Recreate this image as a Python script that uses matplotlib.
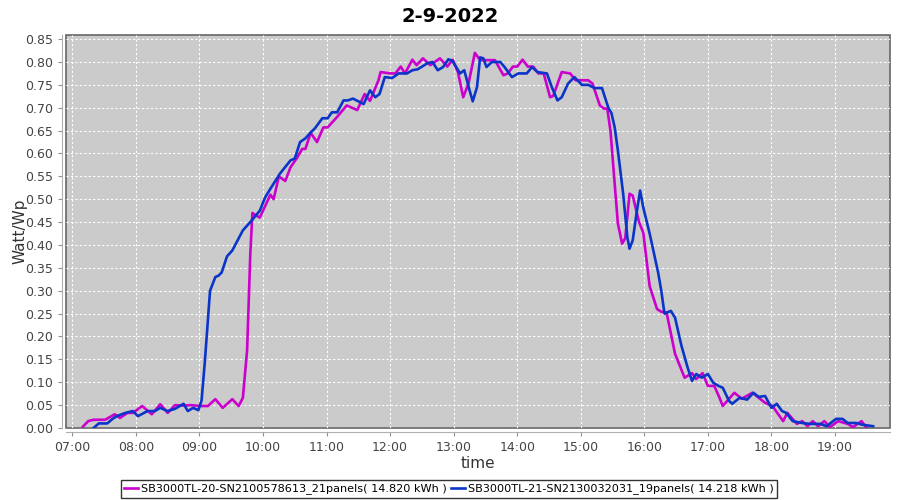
import pandas as pd
import matplotlib
matplotlib.use("Agg")
import matplotlib.pyplot as plt
import matplotlib.dates as mdates

DAY = "2022-09-02"
TITLE = "2-9-2022"

# SB3000TL-20 (magenta)
sb20_times = [
    "07:10", "07:15", "07:20", "07:31", "07:40", "07:45", "07:52", "07:57",
    "08:06", "08:15", "08:23", "08:30", "08:37", "08:45", "08:52", "09:01",
    "09:08", "09:15", "09:22", "09:31", "09:37", "09:41", "09:45", "09:48",
    "09:50", "09:53", "09:57", "10:02", "10:07", "10:10", "10:15", "10:21",
    "10:26", "10:32", "10:37", "10:40", "10:45", "10:51", "10:57", "11:01",
    "11:10", "11:19", "11:29", "11:36", "11:41", "11:49", "11:51", "12:00",
    "12:05", "12:10", "12:14", "12:21", "12:25", "12:31", "12:38", "12:47",
    "12:54", "12:59", "13:04", "13:09", "13:14", "13:20", "13:25", "13:32",
    "13:39", "13:47", "13:51", "13:56", "14:00", "14:05", "14:10", "14:15",
    "14:20", "14:25", "14:31", "14:34", "14:42", "14:50", "14:55", "15:07",
    "15:11", "15:18", "15:22", "15:25", "15:28", "15:31", "15:35", "15:39",
    "15:42", "15:46", "15:49", "15:55", "15:59", "16:05", "16:12", "16:16",
    "16:21", "16:29", "16:38", "16:45", "16:49", "16:55", "17:00", "17:06",
    "17:11", "17:14", "17:25", "17:32", "17:42", "17:54", "18:01", "18:11",
    "18:15", "18:24", "18:29", "18:34", "18:39", "18:44", "18:50", "18:55",
    "19:03", "19:12", "19:17", "19:25", "19:30",
]
sb20_values = [
    0.003, 0.015, 0.018, 0.018, 0.030, 0.022, 0.033, 0.033,
    0.048, 0.030, 0.052, 0.033, 0.050, 0.049, 0.050, 0.048,
    0.048, 0.063, 0.044, 0.063, 0.048, 0.066, 0.170, 0.380,
    0.470, 0.465, 0.460, 0.485, 0.510, 0.500, 0.550, 0.540,
    0.570, 0.590, 0.610, 0.610, 0.645, 0.625, 0.657, 0.657,
    0.680, 0.705, 0.695, 0.730, 0.715, 0.760, 0.778, 0.775,
    0.775, 0.790, 0.775, 0.805, 0.793, 0.808, 0.793, 0.808,
    0.790, 0.805, 0.778, 0.723, 0.753, 0.820, 0.804, 0.804,
    0.804, 0.771, 0.775, 0.790, 0.790, 0.805, 0.790, 0.790,
    0.775, 0.775, 0.723, 0.726, 0.778, 0.775, 0.760, 0.760,
    0.753, 0.705, 0.698, 0.698, 0.650, 0.563, 0.447, 0.403,
    0.415, 0.512, 0.508, 0.450, 0.427, 0.310, 0.260, 0.254,
    0.252, 0.162, 0.110, 0.120, 0.107, 0.120, 0.092, 0.092,
    0.066, 0.048, 0.077, 0.064, 0.077, 0.055, 0.048, 0.015,
    0.033, 0.009, 0.015, 0.004, 0.015, 0.004, 0.015, 0.002,
    0.015, 0.009, 0.002, 0.015, 0.000,
]

# SB3000TL-21 (blue)
sb21_times = [
    "07:20", "07:25", "07:33", "07:38", "07:42", "07:50", "07:57", "08:02",
    "08:11", "08:18", "08:23", "08:30", "08:37", "08:45", "08:49", "08:54",
    "08:59", "09:02", "09:05", "09:10", "09:15", "09:18", "09:21", "09:26",
    "09:31", "09:36", "09:41", "09:48", "09:53", "09:57", "10:02", "10:07",
    "10:16", "10:26", "10:30", "10:35", "10:40", "10:45", "10:49", "10:56",
    "11:01", "11:05", "11:10", "11:16", "11:20", "11:25", "11:35", "11:41",
    "11:46", "11:50", "11:55", "12:02", "12:08", "12:16", "12:21", "12:26",
    "12:35", "12:40", "12:45", "12:50", "12:55", "12:59", "13:06", "13:10",
    "13:15", "13:18", "13:22", "13:25", "13:28", "13:31", "13:36", "13:44",
    "13:48", "13:55", "14:01", "14:09", "14:14", "14:19", "14:28", "14:33",
    "14:38", "14:42", "14:48", "14:54", "15:01", "15:07", "15:13", "15:20",
    "15:26", "15:29", "15:32", "15:35", "15:40", "15:44", "15:46", "15:49",
    "15:53", "15:56", "15:59", "16:05", "16:10", "16:13", "16:16", "16:19",
    "16:25", "16:29", "16:35", "16:41", "16:45", "16:49", "16:54", "17:00",
    "17:05", "17:10", "17:14", "17:20", "17:23", "17:30", "17:37", "17:43",
    "17:48", "17:54", "18:00", "18:05", "18:10", "18:14", "18:20", "18:29",
    "18:36", "18:46", "18:52", "19:01", "19:07", "19:12", "19:20", "19:26",
    "19:36",
]
sb21_values = [
    0.000, 0.010, 0.010, 0.020, 0.026, 0.033, 0.037, 0.026,
    0.037, 0.037, 0.044, 0.037, 0.042, 0.053, 0.037, 0.044,
    0.039, 0.060, 0.142, 0.300, 0.330, 0.333, 0.340, 0.375,
    0.388, 0.410, 0.432, 0.450, 0.464, 0.475, 0.504, 0.523,
    0.556, 0.585, 0.589, 0.625, 0.633, 0.646, 0.655, 0.677,
    0.677, 0.690, 0.690, 0.716, 0.716, 0.720, 0.708, 0.738,
    0.723, 0.730, 0.767, 0.765, 0.775, 0.775, 0.782, 0.784,
    0.797, 0.800, 0.782, 0.789, 0.806, 0.802, 0.775, 0.782,
    0.738, 0.714, 0.745, 0.810, 0.808, 0.789, 0.800, 0.800,
    0.789, 0.767, 0.775, 0.775, 0.789, 0.778, 0.775, 0.743,
    0.716, 0.723, 0.753, 0.767, 0.750, 0.750, 0.743, 0.743,
    0.700, 0.688, 0.657, 0.607, 0.512, 0.416, 0.392, 0.410,
    0.475, 0.519, 0.482, 0.425, 0.372, 0.340, 0.300, 0.250,
    0.256, 0.241, 0.180, 0.131, 0.103, 0.118, 0.110, 0.118,
    0.099, 0.092, 0.088, 0.059, 0.053, 0.066, 0.062, 0.077,
    0.068, 0.070, 0.044, 0.053, 0.037, 0.033, 0.015, 0.011,
    0.009, 0.009, 0.004, 0.020, 0.020, 0.011, 0.011, 0.007,
    0.004,
]

series = [
    ("SB3000TL-20-SN2100578613_21panels( 14.820 kWh )", sb20_times, sb20_values, "#CC00CC"),
    ("SB3000TL-21-SN2130032031_19panels( 14.218 kWh )", sb21_times, sb21_values, "#0A35C8"),
]


def to_dt(times: list[str]) -> pd.DatetimeIndex:
    return pd.to_datetime([f"{DAY} {t}" for t in times])


def main() -> None:
    fig = plt.figure(figsize=(9, 5), dpi=100)
    ax = fig.add_axes([0.0733, 0.144, 0.9157, 0.786])
    ax.set_facecolor("#CBCBCB")
    ax.patch.set_edgecolor("#666666")
    ax.patch.set_linewidth(1.2)

    for label, times, values, color in series:
        ax.plot(to_dt(times), values, color=color, lw=1.9, label=label)

    ax.set_xlim(pd.Timestamp(f"{DAY} 06:54"), pd.Timestamp(f"{DAY} 19:52"))
    ax.set_ylim(0, 0.859)
    ax.xaxis.set_major_locator(mdates.HourLocator())
    ax.xaxis.set_major_formatter(mdates.DateFormatter("%H:%M"))
    ax.set_yticks([i * 0.05 for i in range(18)])
    ax.yaxis.set_major_formatter(plt.FormatStrFormatter("%.2f"))

    ax.grid(True, color="white", ls=(0, (2, 2)), lw=0.8)
    ax.set_axisbelow(True)

    for side in ("top", "right"):
        ax.spines[side].set_visible(False)
    for side in ("left", "bottom"):
        ax.spines[side].set_position(("outward", 3))
        ax.spines[side].set_color("#B0B0B0")
    ax.tick_params(colors="#909090", labelcolor="#444444", labelsize=9,
                   length=3, width=0.8)

    ax.set_xlabel("time", fontsize=11, color="#333333", labelpad=1)
    ax.set_ylabel("Watt/Wp", fontsize=11, color="#333333")
    ax.yaxis.set_label_coords(-0.047, 0.5)
    fig.suptitle(TITLE, fontsize=14, fontweight="bold", y=0.985)

    leg = fig.legend(loc="lower center", bbox_to_anchor=(0.499, 0.0), ncol=2,
                     fontsize=8.1, frameon=True, fancybox=False,
                     handlelength=1.2, handletextpad=0.3, columnspacing=0.4,
                     borderpad=0.3, borderaxespad=0.2)
    leg.get_frame().set_edgecolor("black")
    leg.get_frame().set_linewidth(1.0)

    fig.savefig("out.png", dpi=100)


if __name__ == "__main__":
    main()
